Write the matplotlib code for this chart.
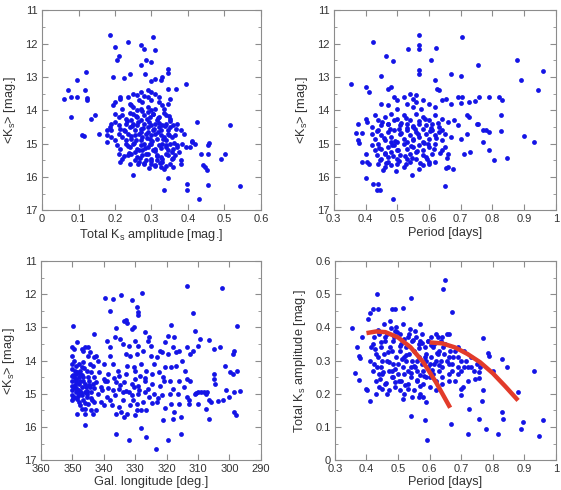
import matplotlib
matplotlib.use("Agg")
import matplotlib.pyplot as plt
from matplotlib.ticker import MultipleLocator

plt.rcParams['font.family'] = ['Liberation Sans', 'DejaVu Sans']

# top left: amplitude vs mean Ks
tl_amp = [0.185, 0.305, 0.235, 0.272, 0.28, 0.2, 0.31, 0.205, 0.21, 0.285, 0.3, 0.27, 0.345, 0.12, 0.24,
          0.345, 0.283, 0.195, 0.225, 0.33, 0.31, 0.095, 0.3, 0.325, 0.395, 0.07, 0.118, 0.06, 0.078, 0.095,
          0.122, 0.123, 0.368, 0.345, 0.078, 0.145, 0.133, 0.155, 0.11, 0.115, 0.425, 0.515, 0.41, 0.42,
          0.405, 0.41, 0.455, 0.458, 0.455, 0.435, 0.503, 0.49, 0.44, 0.448, 0.452, 0.25, 0.345, 0.397,
          0.397, 0.455, 0.542, 0.333, 0.43, 0.178, 0.178, 0.178, 0.19, 0.19, 0.38, 0.39, 0.38, 0.38, 0.36,
          0.25, 0.27, 0.29, 0.3, 0.31, 0.26, 0.235, 0.215, 0.215, 0.32, 0.28, 0.35, 0.29,
          0.2, 0.195, 0.24, 0.245, 0.265, 0.275, 0.3, 0.32, 0.33, 0.345, 0.25, 0.27, 0.29, 0.31, 0.335, 0.22, 0.26, 0.3,
          0.2, 0.21, 0.22, 0.23, 0.25, 0.26, 0.28, 0.295, 0.305, 0.32, 0.34, 0.35, 0.27, 0.245, 0.315, 0.29,
          0.185, 0.19, 0.2, 0.21, 0.215, 0.23, 0.24, 0.25, 0.26, 0.27, 0.28, 0.29, 0.3, 0.31, 0.32, 0.33, 0.34,
          0.35, 0.36, 0.37, 0.255, 0.305, 0.325, 0.345, 0.225,
          0.21, 0.22, 0.235, 0.245, 0.255, 0.265, 0.275, 0.285, 0.295, 0.3, 0.31, 0.315, 0.325, 0.335, 0.345,
          0.355, 0.365, 0.27, 0.29, 0.34, 0.23, 0.2,
          0.205, 0.215, 0.23, 0.24, 0.25, 0.26, 0.27, 0.28, 0.29, 0.3, 0.31, 0.32, 0.33, 0.34, 0.35, 0.36, 0.37,
          0.385, 0.395, 0.275, 0.305, 0.255, 0.345,
          0.21, 0.22, 0.235, 0.245, 0.26, 0.275, 0.29, 0.3, 0.315, 0.325, 0.34, 0.355, 0.365, 0.375, 0.285, 0.315,
          0.215, 0.24, 0.265, 0.28, 0.31, 0.325, 0.335, 0.35, 0.3, 0.33,
          0.232, 0.247, 0.262, 0.278, 0.293, 0.308, 0.322, 0.338, 0.352, 0.367,
          0.228, 0.243, 0.258, 0.272, 0.287, 0.302, 0.317, 0.332, 0.347, 0.362,
          0.236, 0.251, 0.266, 0.281, 0.296, 0.311, 0.326, 0.341, 0.356, 0.371,
          0.224, 0.239, 0.254, 0.269, 0.284, 0.299, 0.314, 0.329, 0.344, 0.359,
          0.242, 0.257, 0.273, 0.288, 0.304, 0.319, 0.334, 0.349,
          0.263, 0.279, 0.294, 0.309, 0.324, 0.339]
tl_ks = [11.75, 11.8, 11.95, 12.05, 12.15, 12.1, 12.2, 12.5, 12.38, 12.5, 12.55, 12.65, 12.75, 12.85, 12.9,
         12.88, 12.92, 13.0, 13.02, 13.0, 13.05, 13.08, 13.13, 13.1, 13.2, 13.4, 13.38, 13.65, 13.6, 13.6,
         13.62, 13.7, 13.35, 13.35, 14.2, 14.15, 14.25, 14.7, 14.75, 14.78, 14.35, 14.45, 14.95, 15.0,
         15.1, 14.92, 15.05, 14.98, 15.3, 15.3, 15.3, 15.45, 15.65, 15.7, 15.8, 15.95, 16.02, 16.22,
         16.4, 16.25, 16.28, 16.4, 16.65, 14.6, 14.75, 14.95, 14.6, 14.8, 14.6, 14.7, 15.5, 15.6, 15.7,
         13.5, 13.45, 13.4, 13.45, 13.5, 13.55, 13.6, 13.6, 13.65, 13.6, 13.58, 13.65, 13.6,
         13.75, 13.85, 13.8, 13.85, 13.7, 13.75, 13.7, 13.75, 13.85, 13.8, 13.9, 13.95, 13.9, 13.95, 13.95, 13.95, 14.0, 14.0,
         14.1, 14.2, 14.15, 14.25, 14.1, 14.2, 14.15, 14.2, 14.1, 14.2, 14.15, 14.25, 14.3, 14.3, 14.3, 14.05,
         14.5, 14.4, 14.35, 14.45, 14.55, 14.4, 14.5, 14.4, 14.45, 14.55, 14.4, 14.5, 14.45, 14.4, 14.5, 14.45, 14.4,
         14.5, 14.45, 14.4, 14.6, 14.6, 14.6, 14.6, 14.6,
         14.7, 14.8, 14.7, 14.85, 14.75, 14.7, 14.8, 14.7, 14.85, 14.75, 14.7, 14.85, 14.75, 14.8, 14.7,
         14.8, 14.75, 14.9, 14.65, 14.9, 14.9, 14.9,
         15.05, 15.15, 15.0, 15.1, 15.0, 15.15, 15.05, 15.0, 15.1, 15.0, 15.15, 15.05, 15.0, 15.1, 15.0, 15.15, 15.05,
         15.0, 15.1, 15.2, 15.2, 15.25, 15.2,
         15.3, 15.45, 15.35, 15.3, 15.4, 15.35, 15.3, 15.45, 15.35, 15.4, 15.3, 15.45, 15.35, 15.25, 15.5, 15.5,
         15.55, 15.6, 15.55, 15.6, 15.65, 15.7, 15.75, 15.6, 15.6, 15.55,
         14.32, 14.48, 14.36, 14.52, 14.34, 14.56, 14.38, 14.47, 14.33, 14.55,
         14.63, 14.78, 14.88, 14.66, 14.82, 14.92, 14.64, 14.86, 14.73, 14.97,
         15.08, 14.98, 15.18, 15.12, 15.02, 15.22, 15.14, 15.04, 15.26, 15.09,
         15.38, 15.28, 15.48, 15.42, 15.32, 15.52, 15.37, 15.46, 15.33, 15.43,
         14.08, 14.18, 14.02, 14.26, 14.12, 14.22, 14.07, 14.17,
         15.62, 15.58, 15.72, 15.68, 15.57, 15.66]

# top right: period vs mean Ks
tr_per = [0.568, 0.705, 0.422, 0.57, 0.57, 0.533, 0.622, 0.465, 0.485, 0.605, 0.878, 0.755, 0.567, 0.568,
          0.958, 0.67, 0.7, 0.45, 0.355, 0.89, 0.945, 0.4, 0.41, 0.47, 0.48, 0.62, 0.625, 0.63, 0.69, 0.705,
          0.725, 0.757, 0.79, 0.82, 0.83, 0.7, 0.745, 0.828, 0.72, 0.725, 0.75, 0.755, 0.77, 0.78, 0.79, 0.826,
          0.898, 0.93, 0.77, 0.79, 0.845, 0.805, 0.71, 0.73, 0.7, 0.72, 0.37, 0.377, 0.375, 0.378, 0.39, 0.4,
          0.405, 0.39, 0.403, 0.405, 0.41, 0.402, 0.423, 0.44, 0.435, 0.445, 0.485, 0.65, 0.653, 0.66, 0.675,
          0.495, 0.545, 0.6, 0.6,
          0.52, 0.55, 0.5, 0.53, 0.56, 0.58, 0.6, 0.45, 0.47, 0.5, 0.55, 0.575, 0.62, 0.64, 0.655, 0.67, 0.54, 0.56, 0.49,
          0.43, 0.44, 0.46, 0.48, 0.5, 0.52, 0.54, 0.56, 0.58, 0.6, 0.62, 0.64, 0.66, 0.68, 0.47, 0.51, 0.53, 0.55,
          0.57, 0.59, 0.61, 0.63, 0.45, 0.69, 0.42,
          0.42, 0.43, 0.44, 0.45, 0.46, 0.47, 0.48, 0.49, 0.5, 0.51, 0.52, 0.53, 0.54, 0.55, 0.56, 0.57, 0.58, 0.59,
          0.6, 0.61, 0.62, 0.63, 0.64, 0.65, 0.67, 0.48, 0.53, 0.58, 0.505, 0.555,
          0.42, 0.43, 0.44, 0.45, 0.46, 0.47, 0.48, 0.49, 0.5, 0.51, 0.52, 0.53, 0.54, 0.55, 0.56, 0.57, 0.58, 0.59,
          0.6, 0.61, 0.62, 0.64, 0.65, 0.66, 0.45, 0.47, 0.5, 0.53, 0.56, 0.435,
          0.44, 0.46, 0.47, 0.48, 0.5, 0.52, 0.54, 0.57, 0.58, 0.62, 0.455,
          0.437, 0.458, 0.476, 0.494, 0.512, 0.531, 0.549, 0.566, 0.584, 0.603, 0.621, 0.642,
          0.443, 0.462, 0.482, 0.503, 0.523, 0.542, 0.561, 0.582, 0.598, 0.617, 0.636, 0.657,
          0.452, 0.471, 0.491, 0.512, 0.529, 0.548, 0.568, 0.587, 0.607, 0.627,
          0.446, 0.466, 0.487, 0.507, 0.527, 0.547, 0.571, 0.593]
tr_ks = [11.75, 11.8, 11.95, 12.05, 12.17, 12.15, 12.12, 12.38, 12.53, 12.5, 12.5, 12.65, 12.78, 12.9,
         12.83, 12.92, 12.97, 12.98, 13.2, 13.08, 13.4, 13.3, 13.45, 13.35, 13.3, 13.1, 13.35, 13.4, 13.6, 13.6,
         13.75, 13.6, 13.6, 13.6, 13.68, 13.78, 13.72, 14.15, 14.15, 14.2, 14.4, 14.4, 14.6, 14.6, 14.65, 14.62,
         14.78, 14.95, 14.95, 15.2, 15.42, 15.5, 15.3, 15.25, 14.85, 14.7, 14.67, 14.4, 14.9, 14.97, 14.67, 14.25,
         14.35, 15.55, 15.3, 15.55, 15.6, 16.02, 16.22, 16.22, 16.4, 16.4, 16.65, 16.28, 15.72, 15.7, 15.75,
         15.82, 15.95, 15.55, 15.62,
         13.6, 13.65, 13.7, 13.8, 13.75, 13.7, 13.8, 13.8, 13.85, 13.95, 13.9, 13.95, 13.9, 13.7, 13.65, 13.8, 13.5, 13.55, 13.6,
         14.15, 14.3, 14.2, 14.1, 14.25, 14.15, 14.3, 14.1, 14.2, 14.3, 14.15, 14.25, 14.35, 14.3, 14.4, 14.45, 14.4, 14.5,
         14.4, 14.45, 14.4, 14.5, 14.45, 14.45, 14.5,
         14.7, 14.85, 14.6, 14.75, 14.9, 14.65, 14.8, 14.6, 14.95, 14.7, 14.85, 14.6, 14.75, 14.9, 14.65, 14.8, 14.55, 14.7,
         14.85, 14.6, 14.75, 14.65, 14.9, 14.7, 14.8, 14.95, 14.95, 14.95, 14.55, 14.55,
         15.05, 15.2, 15.0, 15.15, 15.3, 15.1, 15.25, 15.05, 15.2, 15.35, 15.0, 15.15, 15.3, 15.1, 15.25, 15.05, 15.2, 15.4,
         15.1, 15.3, 15.0, 15.2, 15.1, 15.3, 15.45, 15.4, 15.45, 15.45, 15.45, 15.35,
         15.6, 15.7, 15.55, 15.65, 15.6, 15.7, 15.55, 15.75, 15.65, 15.55, 15.8,
         14.62, 14.83, 14.57, 14.91, 14.68, 14.52, 14.87, 14.72, 14.97, 14.63, 14.84, 14.58,
         15.12, 15.27, 15.03, 15.18, 15.38, 15.07, 15.22, 15.33, 15.02, 15.16, 15.28, 15.42,
         14.35, 14.42, 14.28, 14.38, 14.22, 14.47, 14.33, 14.27, 14.52, 14.37,
         15.48, 15.58, 15.37, 15.52, 15.62, 15.42, 15.57, 15.47]

# bottom left: galactic longitude vs mean Ks
bl_lon = [313.5, 302.5, 327.8, 339.5, 337, 334.5, 331, 329.5, 329, 329, 338, 311.5, 333, 332.5, 333.5, 318.5,
          297.5, 349.8, 336.2, 331, 330.5, 311, 327, 343, 319.5, 317.5, 309.5, 306.5, 303, 305, 310, 320.5, 339,
          334.8, 334, 316, 313.5, 298.5, 299, 311.5, 301.5, 299.8, 299, 297.5, 305, 305, 304.5, 301, 298.5, 296.5,
          300, 302, 303.5, 306.5, 306, 298.5, 297.8, 306.5, 307.5, 310, 313, 313.5, 313, 308, 309, 310, 310.5, 311,
          313.5, 312.5, 315, 315.5, 315.5, 319.5, 323.5, 326.5, 328, 332, 336, 346, 320.5, 321, 318, 317.5,
          350, 349.5, 350, 349.5, 350, 349, 350, 349.3, 348.5, 350, 349.5, 348.8, 350, 349, 348, 350, 349.3, 348.5,
          350, 349, 348, 350, 349.5, 348.5, 350, 347.5, 347, 347.5, 346.5, 346, 347, 346, 345.5, 345, 344.5, 345.5,
          344, 346.5, 347.5, 347, 348, 346, 345, 344, 342.5, 343, 342, 341, 342.5, 341.5, 343, 343.5, 344.5, 345,
          346.5, 347, 346, 345, 348.5, 344.5, 342.5, 343, 342, 340, 340, 339.5, 340.5, 339, 340, 341, 348.5, 346,
          343.5, 348, 347, 349, 348, 346.5, 344, 343.5,
          338, 338, 337, 335.5, 336, 337, 336.5, 337.5, 336, 335, 334, 334, 333.5, 333, 332.5, 333, 332, 331.5,
          330.5, 330, 330.5, 331, 331.5, 332.5, 333.5, 334.5, 330, 329.5, 329, 329, 328.5, 328, 329.5, 329, 330,
          328, 327.5, 327, 327, 326.5, 327.5, 326, 325.5, 326.5, 324, 324.5, 324.5, 324, 325, 325, 323, 322.5,
          322, 323, 321.5, 321, 321.5, 320.5, 319, 319, 318.5, 318, 319.5, 318, 317, 316, 316.5, 316, 317, 335,
          335, 338.5, 339, 338, 336.5, 332, 331, 330, 329.5, 326, 325.5, 322, 318.5, 314.5, 314, 312.5, 307, 307.5,
          349.7, 349.2, 348.7, 348.2, 347.7, 347.2, 346.7, 346.2, 345.7, 345.2, 344.7, 344.2,
          349.8, 349.1, 348.3, 347.6, 346.9, 346.1, 345.3, 344.6, 343.8, 343.1,
          338.7, 336.8, 334.7, 332.8, 330.8, 328.7, 326.8, 324.8, 322.8, 320.8]
bl_ks = [11.75, 11.8, 11.95, 12.1, 12.15, 12.03, 12.17, 12.38, 12.52, 12.62, 12.5, 12.55, 12.78, 12.85, 12.8,
         12.92, 12.97, 12.97, 13.02, 13.05, 13.0, 13.1, 13.15, 13.2, 13.25, 13.3, 13.35, 13.37, 13.6, 13.65,
         13.55, 13.45, 13.4, 13.35, 13.5, 13.7, 13.6, 13.7, 13.8, 13.72, 14.15, 14.35, 14.4, 14.3, 14.4, 14.55,
         14.7, 14.9, 14.95, 14.92, 15.1, 15.2, 15.22, 15.2, 15.25, 15.55, 15.65, 15.75, 15.45, 15.3, 15.32, 15.1,
         15.2, 14.95, 14.95, 14.95, 14.98, 15.0, 14.55, 14.6, 14.0, 15.7, 16.22, 16.4, 16.65, 16.3, 16.02, 16.4,
         16.22, 15.95, 15.42, 15.8, 15.75, 15.55,
         13.6, 13.65, 13.85, 14.0, 14.1, 14.15, 14.25, 14.3, 14.35, 14.45, 14.5, 14.55, 14.6, 14.65, 14.7, 14.75,
         14.8, 14.85, 14.9, 14.95, 15.0, 15.05, 15.1, 15.15, 15.2, 14.6, 14.8, 14.4, 14.5, 14.7, 15.05, 14.95,
         14.3, 14.5, 14.8, 15.1, 14.95, 15.2, 15.35, 15.45, 15.25, 15.45, 15.3, 15.5, 15.5, 15.25, 15.0, 14.8,
         14.65, 14.35, 14.5, 14.15, 14.1, 13.85, 13.7, 13.65, 13.6, 13.6, 13.45, 13.75, 13.85, 13.9, 14.0, 14.1,
         14.55, 14.6, 14.9, 15.1, 15.35, 15.25, 15.6, 15.6, 15.6, 14.1, 14.2, 14.4, 14.5, 14.05, 14.35, 14.7,
         13.6, 13.85, 14.1, 14.3, 14.65, 14.9, 15.05, 15.35, 15.6, 15.4, 15.2, 14.95, 14.65, 14.4, 14.15, 13.8,
         13.55, 13.85, 14.2, 14.55, 14.8, 15.05, 15.35, 15.6, 15.7, 15.55, 15.65, 15.3, 15.0, 14.75, 14.45, 14.1,
         13.8, 13.55, 13.4, 15.5, 15.25, 14.95, 14.6, 14.3, 13.7, 14.85, 15.1, 15.5, 15.0, 14.7, 14.4, 14.1,
         13.85, 13.55, 13.9, 14.35, 14.75, 15.25, 15.05, 14.5, 13.75, 14.2, 14.6, 15.0, 15.3, 14.85, 13.8, 13.6,
         14.15, 14.6, 15.0, 15.3, 13.75, 14.45, 14.85, 14.4, 14.6, 15.2, 13.3, 14.95, 14.7, 14.3, 15.5, 13.4,
         13.3, 13.7, 14.2, 14.8, 14.3, 13.8, 14.95, 15.0,
         14.42, 14.72, 14.58, 14.88, 14.32, 14.98, 14.62, 14.22, 14.78, 15.02, 14.62, 15.12,
         15.12, 14.82, 15.08, 14.92, 14.42, 15.28, 14.92, 14.72, 15.18, 14.82,
         14.82, 14.52, 14.72, 14.92, 15.18, 14.88, 14.52, 15.28, 15.12, 14.62]

# bottom right: period vs amplitude
br_per = [0.432, 0.65, 0.643, 0.54, 0.67, 0.515, 0.49, 0.48, 0.435, 0.42, 0.41, 0.355, 0.405, 0.385, 0.37,
          0.375, 0.38, 0.365, 0.377, 0.4, 0.402, 0.41, 0.54, 0.585, 0.593, 0.668, 0.72, 0.725, 0.757, 0.78,
          0.815, 0.83, 0.832, 0.888, 0.895, 0.945, 0.958, 0.93, 0.88, 0.845, 0.828, 0.8, 0.785, 0.787, 0.768,
          0.77, 0.765, 0.755, 0.755, 0.758, 0.745, 0.72, 0.7, 0.7, 0.705, 0.69, 0.7, 0.66, 0.62, 0.64, 0.57,
          0.42, 0.43, 0.44, 0.45, 0.46, 0.47, 0.48, 0.49, 0.5, 0.51, 0.52, 0.53, 0.54, 0.55, 0.56, 0.57, 0.58,
          0.59, 0.6, 0.61, 0.62, 0.63, 0.64, 0.65, 0.66, 0.67, 0.68, 0.69,
          0.41, 0.42, 0.43, 0.44, 0.45, 0.46, 0.47, 0.48, 0.49, 0.5, 0.51, 0.52, 0.53, 0.54, 0.55, 0.56, 0.57,
          0.58, 0.59, 0.6, 0.61, 0.62, 0.63, 0.64, 0.66, 0.68,
          0.415, 0.425, 0.435, 0.445, 0.455, 0.465, 0.475, 0.485, 0.495, 0.505, 0.515, 0.525, 0.535, 0.545,
          0.555, 0.565, 0.575, 0.585, 0.595, 0.605, 0.615, 0.625, 0.635, 0.645, 0.655,
          0.425, 0.435, 0.445, 0.455, 0.465, 0.475, 0.485, 0.495, 0.505, 0.515, 0.525, 0.535, 0.545, 0.555,
          0.565, 0.575, 0.585, 0.595, 0.605, 0.615, 0.625, 0.635, 0.655, 0.665, 0.675,
          0.44, 0.48, 0.52, 0.56, 0.6, 0.505, 0.545, 0.565, 0.58, 0.59, 0.515, 0.465, 0.43, 0.45, 0.49, 0.53,
          0.57, 0.62, 0.64, 0.66, 0.69, 0.7, 0.71, 0.715, 0.72, 0.73, 0.74, 0.75, 0.71, 0.73, 0.69, 0.67, 0.66,
          0.428, 0.447, 0.467, 0.486, 0.507, 0.526, 0.546, 0.566, 0.586, 0.604, 0.624, 0.643,
          0.432, 0.452, 0.472, 0.491, 0.512, 0.531, 0.551, 0.571, 0.59, 0.609, 0.629,
          0.438, 0.458, 0.478, 0.497, 0.518, 0.537, 0.557, 0.576, 0.596,
          0.442, 0.462, 0.483, 0.502, 0.522, 0.542, 0.561, 0.582]
br_amp = [0.502, 0.543, 0.515, 0.49, 0.447, 0.46, 0.455, 0.455, 0.455, 0.455, 0.445, 0.398, 0.425, 0.372,
          0.342, 0.315, 0.308, 0.262, 0.242, 0.215, 0.212, 0.177, 0.133, 0.12, 0.06, 0.11, 0.078, 0.155, 0.123,
          0.095, 0.078, 0.145, 0.123, 0.095, 0.115, 0.072, 0.12, 0.268, 0.205, 0.28, 0.305, 0.268, 0.322, 0.315,
          0.368, 0.21, 0.178, 0.247, 0.265, 0.28, 0.245, 0.24, 0.195, 0.215, 0.22, 0.34, 0.3, 0.38, 0.38, 0.37,
          0.41,
          0.35, 0.32, 0.38, 0.3, 0.36, 0.27, 0.33, 0.39, 0.29, 0.35, 0.31, 0.37, 0.28, 0.33, 0.3, 0.36, 0.27,
          0.32, 0.29, 0.34, 0.3, 0.33, 0.28, 0.35, 0.31, 0.29, 0.33, 0.28,
          0.3, 0.27, 0.24, 0.22, 0.26, 0.23, 0.21, 0.25, 0.22, 0.26, 0.24, 0.2, 0.23, 0.25, 0.21, 0.24, 0.2,
          0.23, 0.25, 0.22, 0.26, 0.24, 0.27, 0.25, 0.26, 0.24,
          0.34, 0.37, 0.39, 0.34, 0.41, 0.38, 0.42, 0.36, 0.4, 0.38, 0.41, 0.34, 0.38, 0.36, 0.39, 0.35, 0.38,
          0.34, 0.36, 0.37, 0.35, 0.37, 0.36, 0.32, 0.38,
          0.29, 0.31, 0.28, 0.32, 0.3, 0.34, 0.29, 0.31, 0.33, 0.28, 0.3, 0.32, 0.3, 0.28, 0.31, 0.29, 0.3, 0.28,
          0.31, 0.29, 0.32, 0.3, 0.3, 0.33, 0.31,
          0.26, 0.27, 0.26, 0.27, 0.25, 0.21, 0.19, 0.19, 0.19, 0.175, 0.185, 0.2, 0.2, 0.215, 0.235, 0.215,
          0.225, 0.21, 0.23, 0.24, 0.26, 0.27, 0.28, 0.3, 0.28, 0.28, 0.27, 0.29, 0.33, 0.31, 0.31, 0.27, 0.29,
          0.335, 0.355, 0.325, 0.372, 0.345, 0.318, 0.362, 0.338, 0.312, 0.348, 0.322, 0.342,
          0.282, 0.265, 0.295, 0.275, 0.305, 0.268, 0.285, 0.258, 0.298, 0.272, 0.288,
          0.392, 0.372, 0.398, 0.385, 0.365, 0.395, 0.372, 0.352, 0.358,
          0.245, 0.232, 0.252, 0.238, 0.228, 0.262, 0.242, 0.255]

# model curves drawn over the bottom right panel
curve1_per = [0.40, 0.43, 0.46, 0.50, 0.54, 0.58, 0.62, 0.665]
curve1_amp = [0.383, 0.388, 0.386, 0.370, 0.340, 0.295, 0.235, 0.158]
curve2_per = [0.60, 0.64, 0.68, 0.72, 0.76, 0.80, 0.84, 0.88]
curve2_amp = [0.355, 0.352, 0.340, 0.320, 0.295, 0.262, 0.222, 0.180]

dot_color = '#1414e6'
text_color = '#333333'
edge_color = '#8c8c8c'
ks_label = r'<K$_\mathregular{s}$> [mag.]'
amp_label = r'Total K$_\mathregular{s}$ amplitude [mag.]'
per_label = 'Period [days]'
label_size = 9.2

fig = plt.figure(figsize=(5.61, 4.9), dpi=100)


def style_axes(ax, y_minor):
    for sp in ax.spines.values():
        sp.set_color(edge_color)
        sp.set_linewidth(0.8)
    ax.tick_params(which='both', direction='in', top=True, right=True,
                   color=edge_color, labelcolor=text_color, labelsize=8, pad=3)
    ax.tick_params(which='major', length=4)
    ax.tick_params(which='minor', length=2.5)
    ax.yaxis.set_minor_locator(MultipleLocator(y_minor))


ax1 = fig.add_axes([0.075, 0.571, 0.390, 0.408])
ax1.scatter(tl_amp, tl_ks, s=12, color=dot_color, linewidths=0)
ax1.set_xlim(0, 0.6)
ax1.set_ylim(17, 11)
ax1.set_xticks([0, 0.1, 0.2, 0.3, 0.4, 0.5, 0.6])
ax1.set_xticklabels(['0', '0.1', '0.2', '0.3', '0.4', '0.5', '0.6'])
ax1.set_xlabel(amp_label, fontsize=label_size, color=text_color, labelpad=2)
ax1.set_ylabel(ks_label, fontsize=label_size, color=text_color, labelpad=5)
style_axes(ax1, 0.5)

ax2 = fig.add_axes([0.595, 0.571, 0.396, 0.408])
ax2.scatter(tr_per, tr_ks, s=12, color=dot_color, linewidths=0)
ax2.set_xlim(0.3, 1.0)
ax2.set_ylim(17, 11)
ax2.set_xticks([0.3, 0.4, 0.5, 0.6, 0.7, 0.8, 0.9, 1.0])
ax2.set_xticklabels(['0.3', '0.4', '0.5', '0.6', '0.7', '0.8', '0.9', '1'])
ax2.set_xlabel(per_label, fontsize=label_size, color=text_color, labelpad=2)
ax2.set_ylabel(ks_label, fontsize=label_size, color=text_color, labelpad=5)
style_axes(ax2, 0.5)

ax3 = fig.add_axes([0.073, 0.061, 0.392, 0.406])
ax3.scatter(bl_lon, bl_ks, s=12, color=dot_color, linewidths=0)
ax3.set_xlim(360, 290)
ax3.set_ylim(17, 11)
ax3.set_xticks([360, 350, 340, 330, 320, 310, 300, 290])
ax3.set_xlabel('Gal. longitude [deg.]', fontsize=label_size, color=text_color, labelpad=1)
ax3.set_ylabel(ks_label, fontsize=label_size, color=text_color, labelpad=5)
style_axes(ax3, 0.5)

ax4 = fig.add_axes([0.597, 0.061, 0.394, 0.406])
ax4.scatter(br_per, br_amp, s=12, color=dot_color, linewidths=0, zorder=2)
ax4.plot(curve1_per, curve1_amp, color='#e23b2a', lw=3.2, solid_capstyle='butt', zorder=3)
ax4.plot(curve2_per, curve2_amp, color='#e23b2a', lw=3.2, solid_capstyle='butt', zorder=3)
ax4.set_xlim(0.3, 1.0)
ax4.set_ylim(0, 0.6)
ax4.set_xticks([0.3, 0.4, 0.5, 0.6, 0.7, 0.8, 0.9, 1.0])
ax4.set_xticklabels(['0.3', '0.4', '0.5', '0.6', '0.7', '0.8', '0.9', '1'])
ax4.set_yticks([0, 0.1, 0.2, 0.3, 0.4, 0.5, 0.6])
ax4.set_yticklabels(['0', '0.1', '0.2', '0.3', '0.4', '0.5', '0.6'])
ax4.set_xlabel(per_label, fontsize=label_size, color=text_color, labelpad=1)
ax4.set_ylabel(amp_label, fontsize=label_size, color=text_color, labelpad=5)
style_axes(ax4, 0.05)

fig.savefig('out.png', dpi=100)
